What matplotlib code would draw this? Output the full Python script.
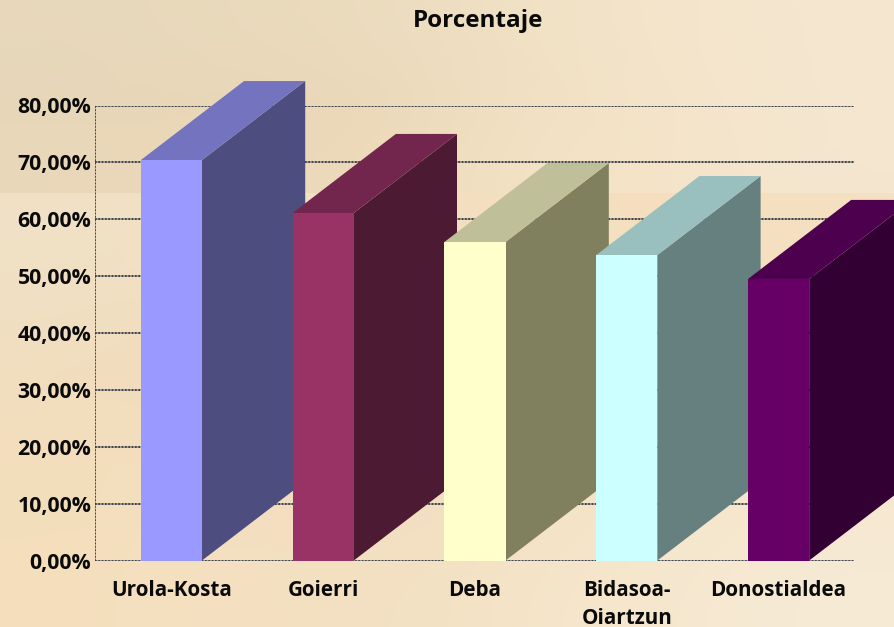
import numpy as np
import matplotlib
matplotlib.use("Agg")
import matplotlib.pyplot as plt
from matplotlib.patches import Polygon

categories = ["Urola-Kosta", "Goierri", "Deba", "Bidasoa-\nOiartzun", "Donostialdea"]
values = [70.4, 61.1, 56.0, 53.7, 49.5]
yticks = [0, 10, 20, 30, 40, 50, 60, 70, 80]
ylabels = ["0,00%", "10,00%", "20,00%", "30,00%", "40,00%", "50,00%", "60,00%", "70,00%", "80,00%"]
front = ["#9999FF", "#993366", "#FFFFCC", "#CCFFFF", "#660066"]
top = ["#7373BF", "#73264D", "#BFBF99", "#99BFBF", "#4D004D"]
side = ["#4D4D80", "#4D1A33", "#80805F", "#668080", "#330033"]

W, H = 895, 627
FONT = ["Open Sans", "DejaVu Sans"]
fig = plt.figure(figsize=(W / 100, H / 100), dpi=100)

# soft parchment backdrop: upper band and lower field
bg = fig.add_axes([0, 0, 1, 1], zorder=0)
bg.axis("off")
upper = np.array([
    [[232, 216, 188], [234, 218, 188], [236, 220, 190], [241, 225, 197], [244, 229, 204], [245, 231, 208]],
    [[231, 214, 184], [232, 214, 182], [233, 215, 184], [241, 224, 194], [244, 228, 202], [245, 231, 208]],
    [[234, 216, 186], [236, 216, 184], [236, 218, 186], [243, 226, 196], [245, 228, 200], [245, 230, 208]],
], dtype=float) / 255
lower = np.array([
    [[240, 225, 198], [243, 226, 196], [243, 224, 192], [244, 224, 192], [244, 222, 188], [244, 224, 194]],
    [[241, 222, 192], [240, 218, 184], [241, 220, 188], [243, 224, 192], [245, 226, 196], [245, 228, 200]],
    [[244, 222, 188], [243, 222, 190], [241, 220, 188], [243, 224, 194], [245, 228, 200], [246, 230, 206]],
    [[244, 222, 188], [245, 226, 194], [243, 224, 194], [245, 228, 200], [246, 232, 208], [247, 235, 214]],
], dtype=float) / 255
split = 1 - 193 / H
bg.imshow(upper, extent=[0, 1, split, 1], aspect="auto", interpolation="bicubic", origin="upper")
bg.imshow(lower, extent=[0, 1, 0, split], aspect="auto", interpolation="bicubic", origin="upper")
bg.set_xlim(0, 1)
bg.set_ylim(0, 1)

ax = fig.add_axes([95.5 / W, 1 - 560.5 / H, 759 / W, 455 / H], zorder=1)
ax.patch.set_alpha(0)
ax.set_xlim(-0.5, 4.5)
ax.set_ylim(0, 80)

bar_w = 0.403
dx, dy = 0.68, 13.9

ax.set_yticks(yticks)
ax.set_yticklabels(ylabels, family=FONT, fontweight="bold", fontsize=15.3, color="#0a0a0a")
ax.set_xticks(range(5))
ax.set_xticklabels(categories, family=FONT, fontweight="bold", fontsize=14.9, color="#0a0a0a", linespacing=1.45)
ax.tick_params(axis="x", length=0, pad=14)
ax.tick_params(axis="y", length=0, pad=3)
ax.grid(False)
for y in yticks:
    ax.axhline(y, color="#999999", lw=1.3, zorder=1)
    ax.axhline(y, color="#333333", lw=1.2, ls=(0, (1, 1)), zorder=1.5)
ax.axvline(-0.5, color="#aaaaaa", lw=1.3, zorder=1)
ax.axvline(-0.5, color="#333333", lw=1.2, ls=(0, (1, 1)), zorder=1.5)
for s in ax.spines.values():
    s.set_visible(False)

for i, v in enumerate(values):
    l, r = i - bar_w / 2, i + bar_w / 2
    ax.add_patch(Polygon([(r, 0), (r + dx, dy), (r + dx, v + dy), (r, v)], fc=side[i], ec="none",
                         zorder=3 + i, clip_on=False))
    ax.add_patch(Polygon([(l, v), (r, v), (r + dx, v + dy), (l + dx, v + dy)], fc=top[i], ec="none",
                         zorder=3 + i, clip_on=False))
    ax.bar(i, v, width=bar_w, color=front[i], zorder=3 + i + 0.5)

fig.text(478 / W, 1 - 21 / H, "Porcentaje", family=FONT, fontweight="bold", fontsize=17.5,
         color="#0a0a0a", ha="center", va="center")
fig.savefig("out.png", dpi=100)
